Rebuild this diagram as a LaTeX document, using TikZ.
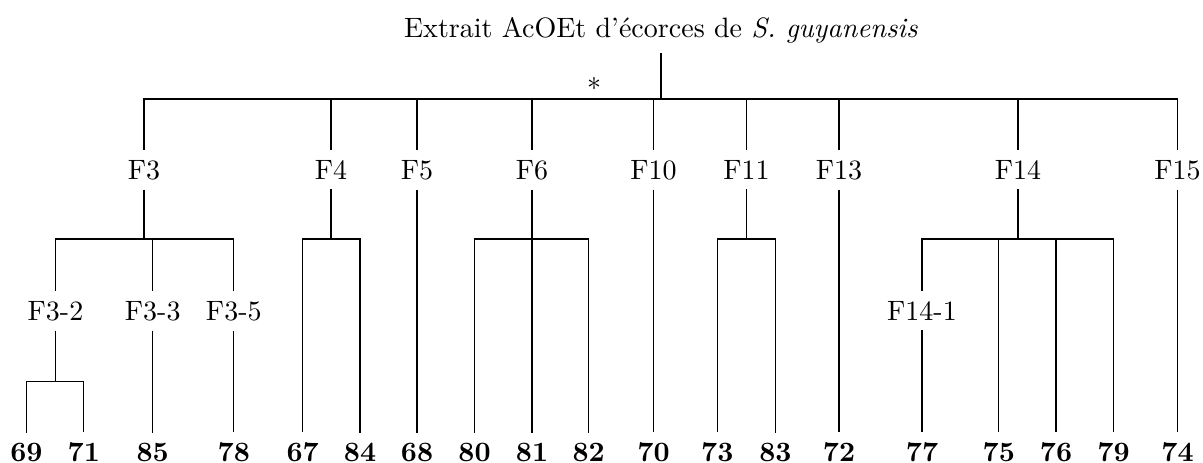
\documentclass[tikz,border=0pt]{standalone}
\usepackage{fontspec}
\usepackage{tikz}

\begin{document}
\begin{tikzpicture}[x=0.357pt, y=-0.357pt,
    lbl/.style={anchor=base, inner sep=3.4pt},
    leaf/.style={anchor=base, inner sep=3.4pt, font=\bfseries}]
      \useasboundingbox (0,0) rectangle (1203,462);
      \def\rowF{179}
      \def\rowS{320}
      \def\rowL{461}

      % root
      \node[lbl] (title) at (661,37) {Extrait AcOEt d'écorces de \textit{S. guyanensis}};
      \node (star) at (594,84) {$*$};
      \coordinate (b0) at (661,99);

      % fractions
      \foreach \name/\x in {3/144, 4/331, 5/417, 6/532, 10/653.5, 11/746.5, 13/839, 14/1018, 15/1177.5} {
        \node[lbl] (F\name) at (\x,\rowF) {F\name};
      }
      % sub-fractions
      \foreach \name/\lab/\x in {F32/F3-2/55.5, F33/F3-3/152.7, F35/F3-5/233.8, F141/F14-1/922} {
        \node[lbl] (\name) at (\x,\rowS) {\lab};
      }
      % compounds
      \foreach \name/\x in {69/26.4, 71/83.8, 85/152.7, 78/233.8, 67/302.7, 84/360, 68/417,
          80/474.5, 81/532, 82/588.6, 70/653.5, 73/717.3, 83/775.4, 72/839,
          77/922, 75/998.8, 76/1056, 79/1113.5, 74/1177.5} {
        \node[leaf] (l\name) at (\x,\rowL) {\name};
      }

      % branching points
      \coordinate (b3) at (144,239);
      \coordinate (b4) at (331,239);
      \coordinate (b6) at (532,239);
      \coordinate (b11) at (746.5,239);
      \coordinate (b14) at (1018,239);
      \coordinate (b32) at (55.5,381.7);

      \draw (title) -- (b0);
      \foreach \c in {3,4,5,6,10,11,13,14,15}
        \draw (b0) -| (F\c);

      \draw (F3) -- (b3);
      \foreach \k in {F32,F33,F35}
        \draw (b3) -| (\k);
      \draw (F4) -- (b4);
      \foreach \k in {l67,l84}
        \draw (b4) -| (\k);
      \draw (F6) -- (b6);
      \foreach \k in {l80,l81,l82}
        \draw (b6) -| (\k);
      \draw (F11) -- (b11);
      \foreach \k in {l73,l83}
        \draw (b11) -| (\k);
      \draw (F14) -- (b14);
      \foreach \k in {F141,l75,l76,l79}
        \draw (b14) -| (\k);
      \draw (F32) -- (b32);
      \foreach \k in {l69,l71}
        \draw (b32) -| (\k);

      \foreach \a/\b in {F5/l68, F10/l70, F13/l72, F15/l74, F33/l85, F35/l78, F141/l77}
        \draw (\a) -- (\b);
\end{tikzpicture}
\end{document}
